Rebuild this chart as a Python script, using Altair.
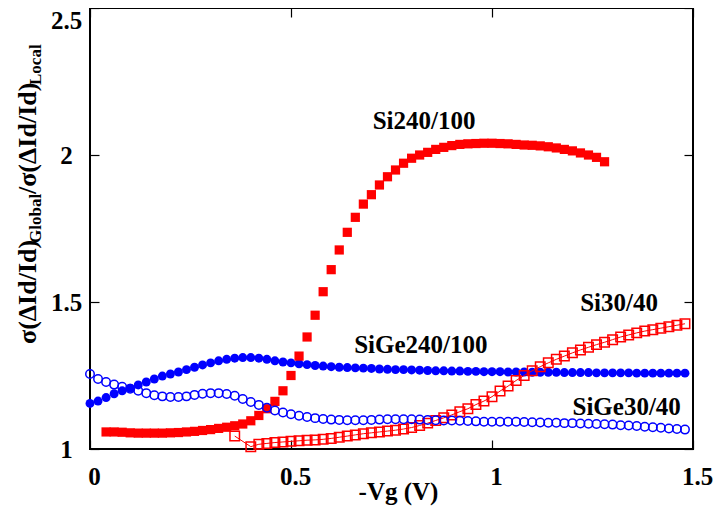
import altair as alt
import pandas as pd

# ---------------- data ----------------
# Si240/100 : filled red squares
si240_x = [0.04, 0.06, 0.08, 0.10, 0.12, 0.14, 0.16, 0.18, 0.20, 0.22, 0.24, 0.26, 0.28, 0.30,
           0.32, 0.34, 0.36, 0.38, 0.40, 0.42, 0.44, 0.46, 0.48, 0.50, 0.52, 0.54, 0.56, 0.58,
           0.60, 0.62, 0.64, 0.66, 0.68, 0.70, 0.72, 0.74, 0.76, 0.78, 0.80, 0.82, 0.84, 0.86,
           0.88, 0.90, 0.92, 0.94, 0.96, 0.98, 1.00, 1.02, 1.04, 1.06, 1.08, 1.10, 1.12, 1.14,
           1.16, 1.18, 1.20, 1.22, 1.24, 1.26, 1.28]
si240_y = [1.058, 1.058, 1.057, 1.055, 1.054, 1.054, 1.054, 1.054, 1.055, 1.056, 1.058, 1.060,
           1.063, 1.066, 1.070, 1.074, 1.079, 1.085, 1.096, 1.114, 1.137, 1.162, 1.198, 1.250,
           1.316, 1.381, 1.455, 1.535, 1.610, 1.677, 1.737, 1.788, 1.833, 1.865, 1.898, 1.926,
           1.949, 1.972, 1.989, 2.000, 2.009, 2.019, 2.026, 2.032, 2.036, 2.038, 2.039, 2.040,
           2.040, 2.039, 2.038, 2.036, 2.034, 2.033, 2.031, 2.028, 2.024, 2.019, 2.014, 2.007,
           2.000, 1.992, 1.977]

# Si30/40 : open red squares joined by a line
si30_x = [0.36, 0.40, 0.42, 0.44, 0.46, 0.48, 0.50, 0.52, 0.54, 0.56, 0.58, 0.60, 0.62, 0.64,
          0.66, 0.68, 0.70, 0.72, 0.74, 0.76, 0.78, 0.80, 0.82, 0.84, 0.86, 0.88, 0.90, 0.92,
          0.94, 0.96, 0.98, 1.00, 1.02, 1.04, 1.06, 1.08, 1.10, 1.12, 1.14, 1.16, 1.18, 1.20,
          1.22, 1.24, 1.26, 1.28, 1.30, 1.32, 1.34, 1.36, 1.38, 1.40, 1.42, 1.44, 1.46, 1.48]
si30_y = [1.044, 1.008, 1.016, 1.019, 1.022, 1.024, 1.026, 1.028, 1.030, 1.031, 1.033, 1.036,
          1.040, 1.044, 1.048, 1.052, 1.055, 1.058, 1.061, 1.064, 1.068, 1.073, 1.080, 1.088,
          1.097, 1.106, 1.116, 1.127, 1.137, 1.151, 1.163, 1.178, 1.197, 1.214, 1.233, 1.250,
          1.266, 1.280, 1.293, 1.305, 1.316, 1.327, 1.337, 1.346, 1.355, 1.363, 1.372, 1.381,
          1.388, 1.395, 1.401, 1.406, 1.411, 1.416, 1.421, 1.426]

# SiGe240/100 : filled blue circles
sige_x = [0.00, 0.02, 0.04, 0.06, 0.08, 0.10, 0.12, 0.14, 0.16, 0.18, 0.20, 0.22, 0.24, 0.26,
          0.28, 0.30, 0.32, 0.34, 0.36, 0.38, 0.40, 0.42, 0.44, 0.46, 0.48, 0.50, 0.52, 0.54,
          0.56, 0.58, 0.60, 0.62, 0.64, 0.66, 0.68, 0.70, 0.72, 0.74, 0.76, 0.78, 0.80, 0.82,
          0.84, 0.86, 0.88, 0.90, 0.92, 0.94, 0.96, 0.98, 1.00, 1.02, 1.04, 1.06, 1.08, 1.10,
          1.12, 1.14, 1.16, 1.18, 1.20, 1.22, 1.24, 1.26, 1.28, 1.30, 1.32, 1.34, 1.36, 1.38,
          1.40, 1.42, 1.44, 1.46, 1.48]
sige240_y = [1.155, 1.163, 1.175, 1.188, 1.198, 1.207, 1.218, 1.228, 1.238, 1.248, 1.255, 1.262,
             1.270, 1.278, 1.286, 1.293, 1.300, 1.305, 1.309, 1.311, 1.311, 1.309, 1.305, 1.300,
             1.296, 1.293, 1.290, 1.287, 1.284, 1.282, 1.280, 1.278, 1.277, 1.276, 1.275, 1.274,
             1.272, 1.271, 1.270, 1.270, 1.269, 1.268, 1.267, 1.266, 1.266, 1.265, 1.265, 1.264,
             1.264, 1.263, 1.263, 1.263, 1.262, 1.262, 1.262, 1.261, 1.261, 1.261, 1.261, 1.260,
             1.260, 1.260, 1.260, 1.259, 1.259, 1.259, 1.259, 1.259, 1.258, 1.258, 1.258, 1.258,
             1.258, 1.258, 1.258]

# SiGe30/40 : open blue circles
sige30_y = [1.255, 1.238, 1.228, 1.219, 1.212, 1.205, 1.198, 1.190, 1.183, 1.179, 1.177, 1.177,
            1.179, 1.184, 1.188, 1.190, 1.190, 1.187, 1.181, 1.170, 1.160, 1.150, 1.140, 1.131,
            1.124, 1.118, 1.113, 1.109, 1.105, 1.102, 1.100, 1.099, 1.098, 1.098, 1.098, 1.099,
            1.100, 1.101, 1.101, 1.101, 1.101, 1.100, 1.099, 1.098, 1.097, 1.097, 1.096, 1.095,
            1.094, 1.093, 1.093, 1.093, 1.093, 1.093, 1.092, 1.091, 1.090, 1.089, 1.089, 1.088,
            1.088, 1.087, 1.086, 1.085, 1.084, 1.083, 1.081, 1.080, 1.078, 1.076, 1.074, 1.072,
            1.070, 1.068, 1.066]

# series labels and where they sit (data units)
label_text = ["Si240/100", "SiGe240/100", "Si30/40", "SiGe30/40"]
label_x = [0.831, 0.823, 1.316, 1.335]
label_y = [2.116, 1.354, 1.498, 1.142]

x_ticks = [0, 0.5, 1, 1.5]
y_ticks = [1, 1.5, 2, 2.5]

# ---------------- chart ----------------
FONT = "Liberation Serif"
RED = "#ff0000"
BLUE = "#0000ff"
W, H = 603, 441

df_si240 = pd.DataFrame({"vg": si240_x, "ratio": si240_y})
df_si30 = pd.DataFrame({"vg": si30_x, "ratio": si30_y})
df_sige240 = pd.DataFrame({"vg": sige_x, "ratio": sige240_y})
df_sige30 = pd.DataFrame({"vg": sige_x, "ratio": sige30_y})
df_lab = pd.DataFrame({"name": label_text, "vg": label_x, "ratio": label_y})

xs = alt.Scale(domain=[0, 1.5], nice=False, zero=False)
ys = alt.Scale(domain=[1, 2.5], nice=False, zero=False)

x_axis_main = alt.Axis(
    title="-Vg (V)", values=x_ticks, format="~g", offset=-9, tickSize=9, tickWidth=1.2,
    tickColor="black", domain=False, grid=False, labelPadding=15, labelFont=FONT,
    labelFontSize=25, labelFontWeight="bold", labelColor="black", labelFlush=False,
    labelOverlap=False, labelOffset=4, titleFont=FONT, titleFontSize=25, titleFontWeight="bold",
    titleColor="black", titleBaseline="alphabetic", titleAlign="center", titleX=308, titleY=59,
)
y_axis_main = alt.Axis(
    title=None, values=y_ticks, format="~g", offset=-9, tickSize=9, tickWidth=1.2,
    tickColor="black", domain=False, grid=False, labelPadding=24, labelAlign="center",
    labelBaseline={"condition": {"test": "datum.value >= 2.4", "value": "top"},
                   "value": "middle"},
    labelFont=FONT, labelFontSize=25, labelFontWeight="bold",
    labelColor="black", labelFlush=False, labelOverlap=False,
)
x_axis_top = alt.Axis(
    orient="top", title=None, values=x_ticks, offset=-9, tickSize=9, tickWidth=1.2,
    tickColor="black", domain=False, grid=False, labels=False,
)
y_axis_right = alt.Axis(
    orient="right", title=None, values=y_ticks, offset=-9, tickSize=9, tickWidth=1.2,
    tickColor="black", domain=False, grid=False, labels=False,
)

sige240 = alt.Chart(df_sige240).mark_circle(size=80, color=BLUE, opacity=1).encode(
    x=alt.X("vg:Q", scale=xs, axis=None), y=alt.Y("ratio:Q", scale=ys, axis=None))

si240 = alt.Chart(df_si240).mark_point(shape="square", filled=True, size=85, color=RED,
                                       opacity=1).encode(
    x=alt.X("vg:Q", scale=xs, axis=x_axis_main), y=alt.Y("ratio:Q", scale=ys, axis=y_axis_main))

si30_line = alt.Chart(df_si30).mark_line(color=RED, strokeWidth=1).encode(
    x=alt.X("vg:Q", scale=xs, axis=x_axis_top), y=alt.Y("ratio:Q", scale=ys, axis=y_axis_right))

si30_pts = alt.Chart(df_si30).mark_point(shape="square", filled=False, size=90, strokeWidth=1.5,
                                         color=RED, opacity=1).encode(
    x=alt.X("vg:Q", scale=xs, axis=None), y=alt.Y("ratio:Q", scale=ys, axis=None))

sige30 = alt.Chart(df_sige30).mark_point(shape="circle", filled=False, size=72, strokeWidth=1.5,
                                         color=BLUE, opacity=1).encode(
    x=alt.X("vg:Q", scale=xs, axis=None), y=alt.Y("ratio:Q", scale=ys, axis=None))

labels = alt.Chart(df_lab).mark_text(font=FONT, fontSize=25, fontWeight="bold", color="black",
                                     align="center", baseline="middle").encode(
    x=alt.X("vg:Q", scale=xs, axis=None), y=alt.Y("ratio:Q", scale=ys, axis=None), text="name:N")


def title_piece(txt, px, py, size):
    return alt.Chart(pd.DataFrame({"t": [txt]})).mark_text(
        font=FONT, fontSize=size, fontWeight="bold", color="black", angle=270,
        align="left", baseline="alphabetic").encode(
        x=alt.value(px), y=alt.value(py), text="t:N")


ytitle = [
    title_piece("σ(ΔId/Id)", -54, 336, 26),
    title_piece("Global", -49, 235, 17),
    title_piece("/σ(ΔId/Id)", -54, 186, 26),
    title_piece("Local", -49, 77, 17),
]

chart = alt.layer(sige240, si240, si30_line, si30_pts, sige30, labels, *ytitle).resolve_axis(
    x="independent", y="independent"
).properties(
    width=W, height=H,
    autosize=alt.AutoSizeParams(type="none"),
    padding={"left": 82, "top": 0, "right": 20, "bottom": 58},
    background="white",
).configure_view(stroke="black", strokeWidth=2)

chart.save("out.html", embed_options={"renderer": "svg", "actions": False})
